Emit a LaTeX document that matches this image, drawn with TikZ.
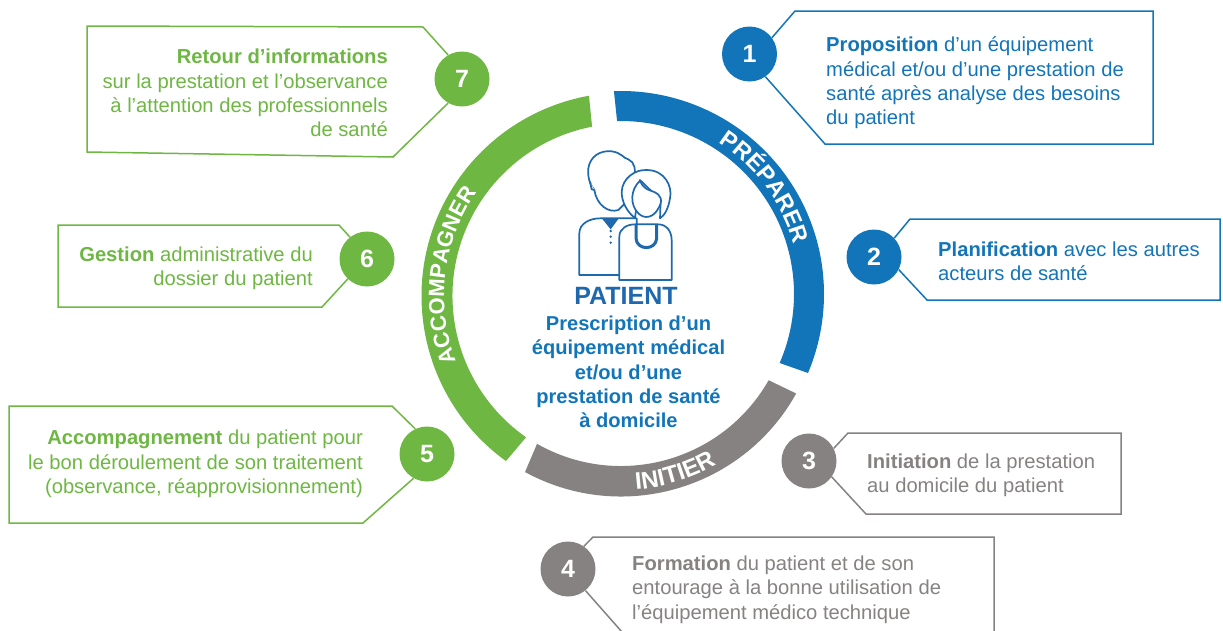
\documentclass[tikz,border=0pt]{standalone}
\usepackage{fontspec}
\setmainfont{Liberation Sans}
\usepackage{tikz}
\usetikzlibrary{calc,positioning,decorations.text}
\definecolor{prepblue}{HTML}{1375B9}
\definecolor{iconblue}{HTML}{1E68AE}
\definecolor{initgrey}{HTML}{868281}
\definecolor{accgreen}{HTML}{6DB742}
\tikzset{
	numdot/.style={shape=circle,minimum size=55pt,inner sep=0pt,text=white,font=\fontsize{25}{25}\selectfont\bfseries},
	callout/.style={line width=1.5pt,line join=miter},
	lefttext/.style={anchor=west,align=left,inner sep=0pt,font=\fontsize{20.2}{24.4}\selectfont},
	righttext/.style={anchor=east,align=right,inner sep=0pt,font=\fontsize{20.2}{24.4}\selectfont},
	ringtext/.style 2 args={decorate,decoration={text along path,text align=center,text={|\fontsize{#1}{#1}\selectfont\bfseries\color{white}|#2}}},
	iconline/.style={draw=iconblue,line width=1.7pt,fill=white,line join=round}
}
\begin{document}
\begin{tikzpicture}[x=1pt,y=1pt]
	\useasboundingbox (0,0) rectangle (1223,-630);
	\clip (0,0) rectangle (1223,-630);
	% ring
	\begin{scope}[shift={(621,-294)}]
		\fill[prepblue] (92:203) arc[start angle=92,end angle=-22.9,radius=203] -- (-23.5:173) arc[start angle=-23.5,end angle=91.3,radius=173] -- cycle;
		\path[ringtext={23.3}{PRÉPARER}] (86.5:180) arc[start angle=86.5,end angle=-13.5,radius=180];
	\end{scope}
	\begin{scope}[shift={(621,-296)}]
		\fill[initgrey] (-29.1:200.5) arc[start angle=-29.1,end angle=-118.6,radius=200.5] -- (-119.6:170) arc[start angle=-119.6,end angle=-29.7,radius=170] -- cycle;
		\path[ringtext={24}{INITIER}] (-113:194) arc[start angle=-113,end angle=-33,radius=194];
	\end{scope}
	\begin{scope}[shift={(625,-296)}]
		\fill[accgreen] (234.2:203.5) arc[start angle=234.2,end angle=100.2,radius=203.5] -- (101:172.5) arc[start angle=101,end angle=235,radius=172.5] -- cycle;
		\path[ringtext={22}{ACCOMPAGNER}] (223:181) arc[start angle=223,end angle=123,radius=181];
	\end{scope}
	% patient icon
	\begin{scope}[shift={(540,-130)},scale=1/3]
		\draw[iconline] (118,-435) -- (118,-310) .. controls (118,-280) and (150,-265) .. (180,-265) -- (290,-265) -- (290,-435) -- cycle;
		\fill[iconblue] (187,-267) -- (235,-267) -- (212,-298) -- cycle;
		\fill[iconblue] (212,-303) circle (4) (212,-320) circle (4) (212,-338) circle (4);
		\draw[iconline] (163,-180) .. controls (170,-225) and (205,-250) .. (235,-240) -- (275,-200) -- (262,-160) -- (245,-115) .. controls (225,-145) and (195,-150) .. (170,-148) -- (163,-180) -- cycle;
		\draw[iconline] (163,-180) .. controls (150,-165) and (142,-140) .. (145,-115) .. controls (150,-80) and (180,-60) .. (215,-64) .. controls (245,-68) and (250,-85) .. (265,-88) .. controls (285,-95) and (288,-125) .. (283,-140);
		\draw[iconline] (150,-155) -- (155,-178) -- (163,-180);
		\draw[iconline] (285,-264) .. controls (260,-245) and (245,-215) .. (245,-185) .. controls (247,-145) and (285,-118) .. (320,-120) .. controls (375,-120) and (398,-170) .. (390,-205) .. controls (385,-235) and (375,-255) .. (360,-265) -- (362,-210) -- (300,-150) -- cycle;
		\draw[iconline] (300,-152) .. controls (270,-180) and (270,-225) .. (295,-250) .. controls (315,-270) and (340,-260) .. (352,-240) .. controls (362,-225) and (365,-215) .. (362,-205) .. controls (355,-185) and (335,-185) .. (322,-178) .. controls (312,-172) and (305,-165) .. (300,-152) -- cycle;
		\draw[iconline] (238,-450) -- (238,-320) .. controls (238,-295) and (262,-283) .. (285,-283) -- (355,-283) .. controls (380,-283) and (395,-305) .. (395,-330) -- (395,-450) -- cycle;
		\draw[draw=iconblue,line width=3pt] (288,-283) -- (288,-325) .. controls (290,-362) and (348,-362) .. (350,-325) -- (350,-283);
	\end{scope}
	\node(title) [inner sep=0pt,text=iconblue,font=\fontsize{25}{25}\selectfont\bfseries] at (626,-296) {PATIENT};
	\node(presc) [inner sep=0pt,align=center,text=prepblue,font=\fontsize{20.1}{24.4}\selectfont\bfseries] at (628.5,-372) {Prescription d’un\\équipement médical\\et/ou d’une\\prestation de santé\\à domicile};
	% number dots
	\node(n1) [numdot,fill=prepblue] at (749.5,-54) {1};
	\node(n2) [numdot,fill=prepblue] at (874,-257) {2};
	\node(n3) [numdot,fill=initgrey] at (809,-461) {3};
	\node(n4) [numdot,fill=initgrey] at (568,-569) {4};
	\node(n5) [numdot,fill=accgreen] at (427,-454) {5};
	\node(n6) [numdot,fill=accgreen] at (367,-259) {6};
	\node(n7) [numdot,fill=accgreen] at (462,-79) {7};
	% callouts
	\draw[callout,prepblue] (n1.36) -- (795,-11) -- (1153,-11) -- (1153,-144) -- (825,-144) -- (n1.-55);
	\draw[callout,prepblue] (n2.43) -- (910,-219) -- (1220,-219) -- (1220,-300) -- (927,-300) -- (n2.-27);
	\draw[callout,initgrey] (n3.27) -- (848,-433) -- (1121,-433) -- (1121,-514) -- (866,-514) -- (n3.-35);
	\draw[callout,initgrey] (n4.55) -- (593,-537) -- (994,-537) -- (994,-632);
	\draw[callout,initgrey] (n4.-51) -- (622,-632);
	\draw[callout,accgreen] (n5.115) -- (392,-406) -- (9,-406) -- (9,-523) -- (363,-523) -- (n5.241);
	\draw[callout,accgreen] (n6.128) -- (339,-225) -- (58,-225) -- (58,-307) -- (322,-307) -- (n6.226);
	\draw[callout,accgreen] (n7.120) -- (423,-27) -- (87,-26) -- (87,-152) -- (393,-157) -- (n7.240);
	% texts
	\node(t1) [lefttext,text=prepblue] at (826,-83) {\textbf{Proposition} d’un équipement\\médical et/ou d’une prestation de\\santé après analyse des besoins\\du patient};
	\node(t2) [lefttext,text=prepblue] at (938,-261) {\textbf{Planification} avec les autres\\acteurs de santé};
	\node(t3) [lefttext,text=initgrey] at (867,-475) {\textbf{Initiation} de la prestation\\au domicile du patient};
	\node(t4) [lefttext,text=initgrey] at (632,-589.5) {\textbf{Formation} du patient et de son\\entourage à la bonne utilisation de\\l’équipement médico technique};
	\node(t5) [righttext,text=accgreen] at (363,-464) {\textbf{Accompagnement} du patient pour\\le bon déroulement de son traitement\\(observance, réapprovisionnement)};
	\node(t6) [righttext,text=accgreen] at (313,-268) {\textbf{Gestion} administrative du\\dossier du patient};
	\node(t7) [righttext,text=accgreen] at (388,-93) {\textbf{Retour d’informations}\\sur la prestation et l’observance\\à l’attention des professionnels\\de santé};
\end{tikzpicture}
\end{document}
